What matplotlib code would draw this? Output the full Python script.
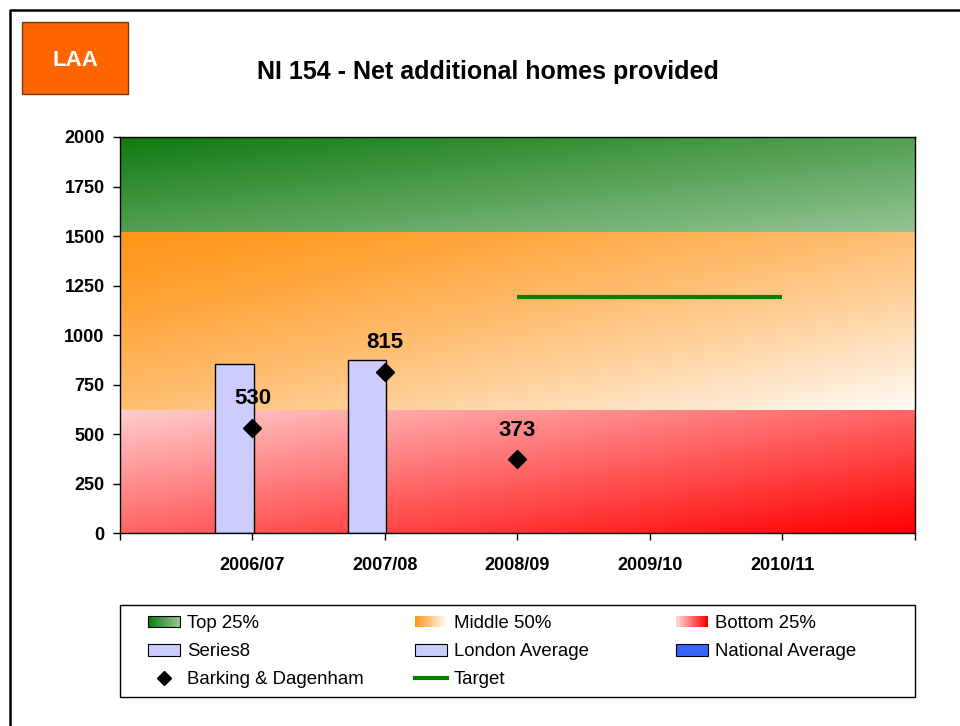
import numpy as np
import matplotlib
matplotlib.use("Agg")
import matplotlib.pyplot as plt
from matplotlib.patches import Rectangle, Patch
from matplotlib.lines import Line2D
from matplotlib.legend_handler import HandlerBase

plt.rcParams['font.family'] = ['Liberation Sans', 'DejaVu Sans']

# data
years = ["2006/07", "2007/08", "2008/09", "2009/10", "2010/11"]
bar_years = ["2006/07", "2007/08"]
london_avg = [855, 875]
barking_years = ["2006/07", "2007/08", "2008/09"]
barking = [530, 815, 373]
target_years = ["2008/09", "2009/10", "2010/11"]
target = [1190, 1190, 1190]
band_edges = [0, 620, 1520, 2000]   # bottom 25%, middle 50%, top 25%

band_colors = [
    ((1.0, 0.80, 0.80), (1.0, 0.0, 0.0)),              # bottom 25%
    ((1.0, 0.59, 0.10), (1.0, 0.98, 0.96)),            # middle 50%
    ((0.06, 0.48, 0.06), (0.58, 0.77, 0.58)),          # top 25%
]
band_gamma = [1.0, 1.3, 1.0]

pos = {y: i + 1 for i, y in enumerate(years)}
n_slots = len(years) + 1


class GradHandler(HandlerBase):
    def __init__(self, c0, c1, edge=False):
        super().__init__()
        self.c0 = np.array(c0)
        self.c1 = np.array(c1)
        self.edge = edge

    def create_artists(self, legend, orig_handle, xdescent, ydescent,
                       width, height, fontsize, trans):
        arts = []
        n = 24
        for i in range(n):
            t = i / (n - 1)
            col = self.c0 * (1 - t) + self.c1 * t
            arts.append(Rectangle((-xdescent + width * i / n, -ydescent),
                                  width / n + 0.5, height, facecolor=col,
                                  edgecolor='none', transform=trans))
        if self.edge:
            arts.append(Rectangle((-xdescent, -ydescent), width, height,
                                  facecolor='none', edgecolor='black',
                                  lw=0.8, transform=trans))
        return arts


def gradient(c0, c1, gamma=1.0, nx=200, ny=60):
    u = np.linspace(0, 1, nx)[None, :]
    v = np.linspace(0, 1, ny)[:, None]   # 0 at bottom
    t = ((u + (1 - v)) / 2) ** gamma
    c0 = np.array(c0)[None, None, :]
    c1 = np.array(c1)[None, None, :]
    return c0 * (1 - t[..., None]) + c1 * t[..., None]


fig = plt.figure(figsize=(9.6, 7.26), dpi=100)
ax = fig.add_axes([0.125, 0.2658, 0.828, 0.5455])

for i in range(3):
    img = gradient(*band_colors[i], gamma=band_gamma[i])
    ax.imshow(img, extent=(0, n_slots, band_edges[i], band_edges[i + 1]),
              origin='lower', aspect='auto', zorder=0, interpolation='bilinear')

bx = [pos[y] + 0.01 for y in bar_years]
ax.bar(bx, london_avg, width=-0.29, align='edge', color='#ccccff',
       edgecolor='black', linewidth=1, zorder=2)

tx = [pos[y] for y in target_years]
ax.plot(tx, target, color='#008000', lw=3, zorder=3, solid_capstyle='butt')

mx = [pos[y] for y in barking_years]
ax.plot(mx, barking, 'D', color='black', markersize=9, zorder=4)
for x, v in zip(mx, barking):
    ax.annotate(str(v), (x, v), xytext=(0, 21), textcoords='offset points',
                ha='center', va='center', fontsize=16, fontweight='bold',
                zorder=5)

ax.set_xlim(0, n_slots)
ax.set_ylim(0, 2000)
ax.set_yticks(np.arange(0, 2001, 250))
ax.set_xticks(range(n_slots + 1))
ax.set_xticklabels([''] + years + [''])
ax.tick_params(axis='y', direction='out', length=5, width=1, pad=6,
               labelsize=13)
ax.tick_params(axis='x', direction='out', length=5, width=1, pad=12,
               labelsize=13)
for lab in ax.get_xticklabels() + ax.get_yticklabels():
    lab.set_fontweight('bold')
for s in ax.spines.values():
    s.set_color('black')
    s.set_linewidth(1)

# outer frame (cropped at right and bottom)
fig.add_artist(Line2D([10 / 960, 10 / 960, 1.0], [0.0, 1 - 10 / 726, 1 - 10 / 726],
                      transform=fig.transFigure, color='black', lw=1.8))

# LAA box
fig.add_artist(Rectangle((22 / 960, 1 - 94 / 726), 106 / 960, 72 / 726,
                         transform=fig.transFigure, facecolor='#ff6600',
                         edgecolor='#7a3a10', lw=1))
fig.text(75 / 960, 1 - 60 / 726, "LAA", color='white', fontsize=16,
         fontweight='bold', ha='center', va='center')

fig.text(488 / 960, 1 - 72 / 726, "NI 154 - Net additional homes provided",
         fontsize=18, fontweight='bold', ha='center', va='center')

# legend frame
fig.add_artist(Rectangle((120 / 960, 1 - 697 / 726), 795 / 960, 92 / 726,
                         transform=fig.transFigure, facecolor='white',
                         edgecolor='black', lw=1, zorder=1))

h_top = Patch(label='Top 25%')
h_mid = Patch(label='Middle 50%')
h_bot = Patch(label='Bottom 25%')
h_s8 = Patch(facecolor='#ccccff', edgecolor='black', lw=0.8, label='Series8')
h_lon = Patch(facecolor='#ccccff', edgecolor='black', lw=0.8, label='London Average')
h_nat = Patch(facecolor='#3366ff', edgecolor='black', lw=0.8, label='National Average')
h_bar = Line2D([], [], marker='D', color='black', linestyle='none',
               markersize=7, label='Barking & Dagenham')
h_tgt = Line2D([], [], color='#008000', lw=3, label='Target')

hmap = {
    h_top: GradHandler(band_colors[2][0], band_colors[2][1], edge=True),
    h_mid: GradHandler(band_colors[1][0], band_colors[1][1]),
    h_bot: GradHandler((1.0, 0.85, 0.85), (1.0, 0.0, 0.0)),
}

columns = [([h_top, h_s8, h_bar], 148), ([h_mid, h_lon, h_tgt], 415),
           ([h_bot, h_nat], 676)]
for hs, xpx in columns:
    leg = fig.legend(handles=hs, loc='upper left',
                     bbox_to_anchor=(xpx / 960, 1 - 615 / 726),
                     frameon=False, fontsize=13.4, borderpad=0,
                     borderaxespad=0, handlelength=1.7, handleheight=0.6,
                     handletextpad=0.4, labelspacing=0.6, handler_map=hmap)
    leg.set_zorder(2)

fig.savefig("out.png", dpi=100)
